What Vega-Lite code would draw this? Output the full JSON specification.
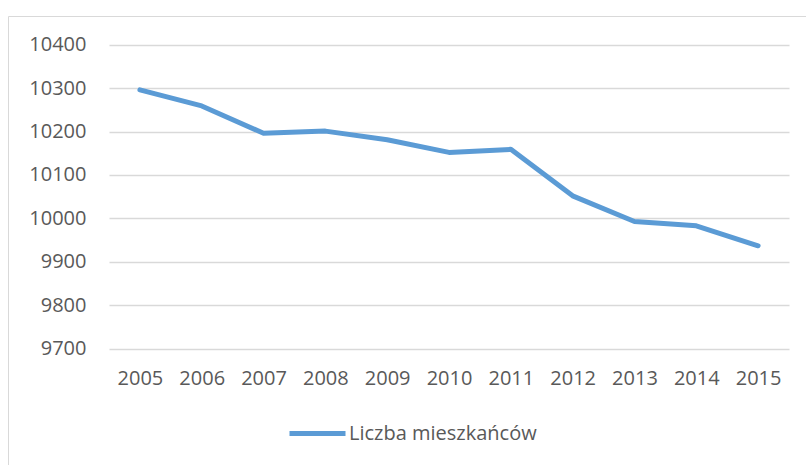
{
  "$schema": "https://vega.github.io/schema/vega-lite/v6.json",
  "width": 803,
  "height": 454,
  "autosize": {"type": "none"},
  "padding": {"left": 8, "top": 16, "right": 0, "bottom": 0},
  "background": "white",
  "config": {
    "view": {"stroke": "#d9d9d9", "strokeWidth": 1},
    "font": "Open Sans"
  },
  "data": {
    "values": [
      {"rok": "2005", "liczba": 10296, "seria": "Liczba mieszkańców"},
      {"rok": "2006", "liczba": 10259, "seria": "Liczba mieszkańców"},
      {"rok": "2007", "liczba": 10196, "seria": "Liczba mieszkańców"},
      {"rok": "2008", "liczba": 10201, "seria": "Liczba mieszkańców"},
      {"rok": "2009", "liczba": 10181, "seria": "Liczba mieszkańców"},
      {"rok": "2010", "liczba": 10152, "seria": "Liczba mieszkańców"},
      {"rok": "2011", "liczba": 10159, "seria": "Liczba mieszkańców"},
      {"rok": "2012", "liczba": 10052, "seria": "Liczba mieszkańców"},
      {"rok": "2013", "liczba": 9993, "seria": "Liczba mieszkańców"},
      {"rok": "2014", "liczba": 9983, "seria": "Liczba mieszkańców"},
      {"rok": "2015", "liczba": 9937, "seria": "Liczba mieszkańców"}
    ]
  },
  "mark": {"type": "line", "strokeWidth": 5, "strokeCap": "round", "strokeJoin": "round"},
  "encoding": {
    "x": {
      "field": "rok",
      "type": "ordinal",
      "scale": {"type": "point", "range": [101, 781], "padding": 0.5},
      "axis": {
        "title": null,
        "labelAngle": 0,
        "domain": false,
        "ticks": false,
        "grid": false,
        "offset": -121.3,
        "labelPadding": 20,
        "labelFontSize": 20,
        "labelColor": "#595959",
        "labelFont": "Open Sans"
      }
    },
    "y": {
      "field": "liczba",
      "type": "quantitative",
      "scale": {"domain": [9700, 10400], "range": [332.7, 28.7], "zero": false, "nice": false},
      "axis": {
        "title": null,
        "values": [9700, 9800, 9900, 10000, 10100, 10200, 10300, 10400],
        "format": "d",
        "domain": false,
        "ticks": false,
        "grid": true,
        "gridColor": "#d9d9d9",
        "gridWidth": 1.5,
        "offset": -78,
        "labelPadding": 0,
        "labelFontSize": 20,
        "labelColor": "#595959",
        "labelFont": "Open Sans"
      }
    },
    "color": {
      "field": "seria",
      "type": "nominal",
      "scale": {"range": ["#5B9BD5"]},
      "legend": {
        "title": null,
        "orient": "none",
        "legendX": 279,
        "legendY": 387,
        "symbolType": "stroke",
        "symbolSize": 3136,
        "symbolStrokeWidth": 5,
        "labelFontSize": 20,
        "labelLimit": 400,
        "labelColor": "#595959",
        "labelFont": "Open Sans",
        "labelOffset": 1
      }
    }
  }
}
